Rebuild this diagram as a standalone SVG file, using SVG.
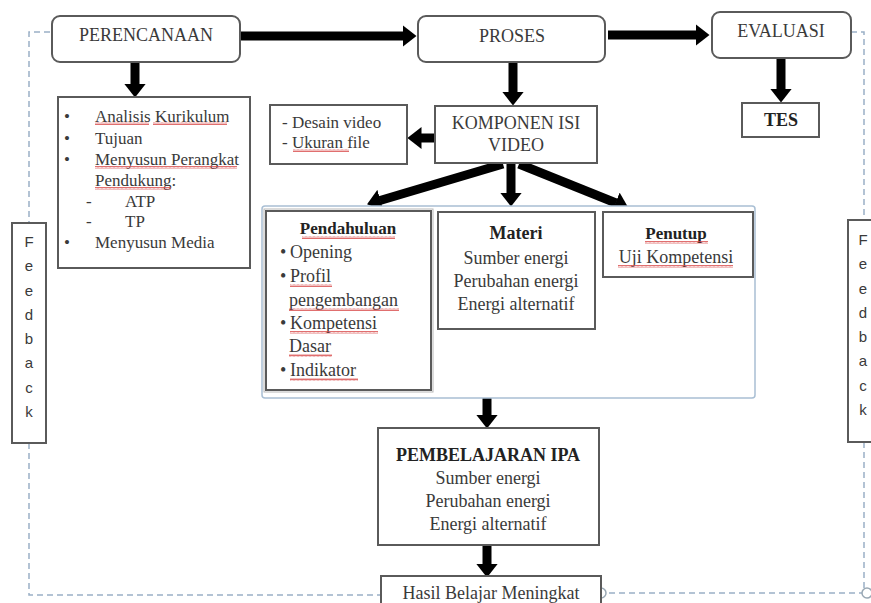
<svg xmlns="http://www.w3.org/2000/svg" width="871" height="603" viewBox="0 0 871 603">
<style>
.box{fill:#fff;stroke:#5a5a5a;stroke-width:2}
.t{font-family:"Liberation Serif","Times New Roman",serif;fill:#3a3a3a}
.c{text-anchor:middle}
.b{font-weight:bold;fill:#222}
.fb{font-family:"Liberation Sans",Arial,sans-serif;font-size:15px;fill:#3a3a3a;text-anchor:middle}
.arr{stroke:#000;stroke-width:9;fill:none;marker-end:url(#ah)}
.dash{fill:none;stroke:#9ab0c6;stroke-width:1.5;stroke-dasharray:6 4}
.wv{fill:url(#wavy)}
</style>
<defs>
<marker id="ah" markerUnits="userSpaceOnUse" markerWidth="14" markerHeight="22" viewBox="0 0 14 22" refX="0.5" refY="11" orient="auto">
<path d="M0,0 L14,11 L0,22 z" fill="#000"/>
</marker>
<pattern id="wavy" width="4" height="3" patternUnits="userSpaceOnUse">
<path d="M0,2.5 L1,0.5 L2,2.5 L3,0.5 L4,2.5" fill="none" stroke="#d84a4a" stroke-width="0.8"/>
</pattern>
</defs>
<rect width="871" height="603" fill="#fff"/>

<g id="feedback-loop">
<path class="dash" d="M50,32 H29 V223"/>
<path class="dash" d="M29,443 V595 H381"/>
<path class="dash" d="M851,32 H864 V220"/>
<path class="dash" d="M864,442 V593 H606"/>
<circle cx="601" cy="593" r="5" fill="#fff" stroke="#9aa8b4" stroke-width="1.5"/>
<circle cx="867" cy="593" r="5" fill="#fff" stroke="#9aa8b4" stroke-width="1.5"/>
</g>

<g id="connectors">
<line class="arr" x1="241" y1="36" x2="403" y2="36"/>
<line class="arr" x1="608" y1="35" x2="696" y2="35"/>
<line class="arr" x1="781" y1="58" x2="781" y2="89"/>
<line class="arr" x1="135" y1="62" x2="135" y2="84"/>
<line class="arr" x1="513" y1="62" x2="513" y2="92"/>
<line class="arr" x1="435" y1="138" x2="421" y2="138"/>
<line class="arr" x1="503" y1="164" x2="380" y2="200.5"/>
<line class="arr" x1="511" y1="163" x2="511" y2="193"/>
<line class="arr" x1="519" y1="164" x2="616" y2="203"/>
<line class="arr" x1="487" y1="398" x2="487" y2="415"/>
<line class="arr" x1="487" y1="545" x2="487" y2="564"/>
</g>

<g id="perencanaan">
<rect class="box" x="52" y="16" width="188" height="46" rx="8"/>
<text class="t c" x="146" y="41" font-size="18">PERENCANAAN</text>
</g>

<g id="proses">
<rect class="box" x="418" y="16" width="187" height="46" rx="8"/>
<text class="t c" x="512" y="42" font-size="18">PROSES</text>
</g>

<g id="evaluasi">
<rect class="box" x="712" y="12" width="139" height="46" rx="8"/>
<text class="t c" x="781" y="37" font-size="18">EVALUASI</text>
</g>

<g id="tes">
<rect class="box" x="742" y="103" width="77" height="34"/>
<text class="t c b" x="781" y="126" font-size="18">TES</text>
</g>

<g id="perencanaan-list">
<rect class="box" x="58" y="97" width="192" height="171"/>
<g class="t" font-size="17">
<text x="64" y="122">•</text><text x="95" y="122">Analisis Kurikulum</text>
<text x="64" y="144">•</text><text x="95" y="144">Tujuan</text>
<text x="64" y="165">•</text><text x="95" y="165">Menyusun Perangkat</text>
<text x="95" y="186">Pendukung:</text>
<text x="86" y="207">-</text><text x="125" y="207">ATP</text>
<text x="86" y="227">-</text><text x="125" y="227">TP</text>
<text x="64" y="248">•</text><text x="95" y="248">Menyusun Media</text>
</g>
<rect class="wv" x="95" y="122" width="54" height="3"/>
<rect class="wv" x="153" y="122" width="74" height="3"/>
<rect class="wv" x="95" y="166" width="142" height="3"/>
<rect class="wv" x="95" y="187" width="76" height="3"/>
</g>

<g id="desain">
<rect class="box" x="270" y="105" width="137" height="59"/>
<text class="t" x="282" y="128" font-size="17">- Desain video</text>
<text class="t" x="282" y="148" font-size="17">- Ukuran file</text>
<rect class="wv" x="293" y="149" width="56" height="3"/>
</g>

<g id="komponen">
<rect class="box" x="435" y="106" width="162" height="57"/>
<text class="t c" x="516" y="129" font-size="18">KOMPONEN ISI</text>
<text class="t c" x="516" y="151" font-size="18">VIDEO</text>
</g>

<g id="isi-video">
<rect x="262" y="206" width="493" height="192" rx="3" fill="#fff" stroke="#a9bfd4" stroke-width="1.5"/>
</g>

<g id="pendahuluan">
<rect x="264" y="209" width="169" height="183" fill="none" stroke="#b8b8b8" stroke-width="1"/>
<rect class="box" x="266" y="211" width="165" height="179"/>
<text class="t c b" x="348" y="234" font-size="17">Pendahuluan</text>
<g class="t" font-size="18">
<text x="280" y="258">•</text><text x="290" y="258">Opening</text>
<text x="280" y="282">•</text><text x="290" y="282">Profil</text>
<text x="289" y="306">pengembangan</text>
<text x="280" y="329">•</text><text x="290" y="329">Kompetensi</text>
<text x="289" y="352">Dasar</text>
<text x="280" y="376">•</text><text x="290" y="376">Indikator</text>
</g>
<rect class="wv" x="302" y="236" width="93" height="3"/>
<rect class="wv" x="290" y="284" width="42" height="3"/>
<rect class="wv" x="289" y="308" width="110" height="3"/>
<rect class="wv" x="290" y="331" width="88" height="3"/>
<rect class="wv" x="289" y="354" width="43" height="3"/>
<rect class="wv" x="290" y="378" width="68" height="3"/>
</g>

<g id="materi">
<rect class="box" x="438" y="212" width="157" height="117"/>
<text class="t c b" x="516" y="239" font-size="18">Materi</text>
<text class="t c" x="516" y="264" font-size="18">Sumber energi</text>
<text class="t c" x="516" y="287" font-size="18">Perubahan energi</text>
<text class="t c" x="516" y="310" font-size="18">Energi alternatif</text>
</g>

<g id="penutup">
<rect class="box" x="603" y="212" width="150" height="65"/>
<text class="t c b" x="676" y="239" font-size="17">Penutup</text>
<text class="t c" x="676" y="263" font-size="18">Uji Kompetensi</text>
<rect class="wv" x="645" y="241" width="63" height="3"/>
<rect class="wv" x="618" y="265" width="115" height="3"/>
</g>

<g id="pembelajaran">
<rect class="box" x="378" y="428" width="221" height="117"/>
<text class="t c b" x="488" y="461" font-size="18">PEMBELAJARAN IPA</text>
<text class="t c" x="488" y="484" font-size="18">Sumber energi</text>
<text class="t c" x="488" y="507" font-size="18">Perubahan energi</text>
<text class="t c" x="488" y="530" font-size="18">Energi alternatif</text>
</g>

<g id="hasil">
<rect class="box" x="381" y="576" width="220" height="40"/>
<text class="t c" x="491" y="599" font-size="18">Hasil Belajar Meningkat</text>
</g>

<g id="feedback-left">
<rect class="box" x="12" y="223" width="34" height="220"/>
<text class="fb" x="29" y="247">F</text>
<text class="fb" x="29" y="271">e</text>
<text class="fb" x="29" y="296">e</text>
<text class="fb" x="29" y="320">d</text>
<text class="fb" x="29" y="344">b</text>
<text class="fb" x="29" y="368">a</text>
<text class="fb" x="29" y="393">c</text>
<text class="fb" x="29" y="417">k</text>
</g>

<g id="feedback-right">
<rect class="box" x="848" y="220" width="34" height="222"/>
<text class="fb" x="863" y="245">F</text>
<text class="fb" x="863" y="269">e</text>
<text class="fb" x="863" y="294">e</text>
<text class="fb" x="863" y="318">d</text>
<text class="fb" x="863" y="342">b</text>
<text class="fb" x="863" y="366">a</text>
<text class="fb" x="863" y="391">c</text>
<text class="fb" x="863" y="415">k</text>
</g>
</svg>
